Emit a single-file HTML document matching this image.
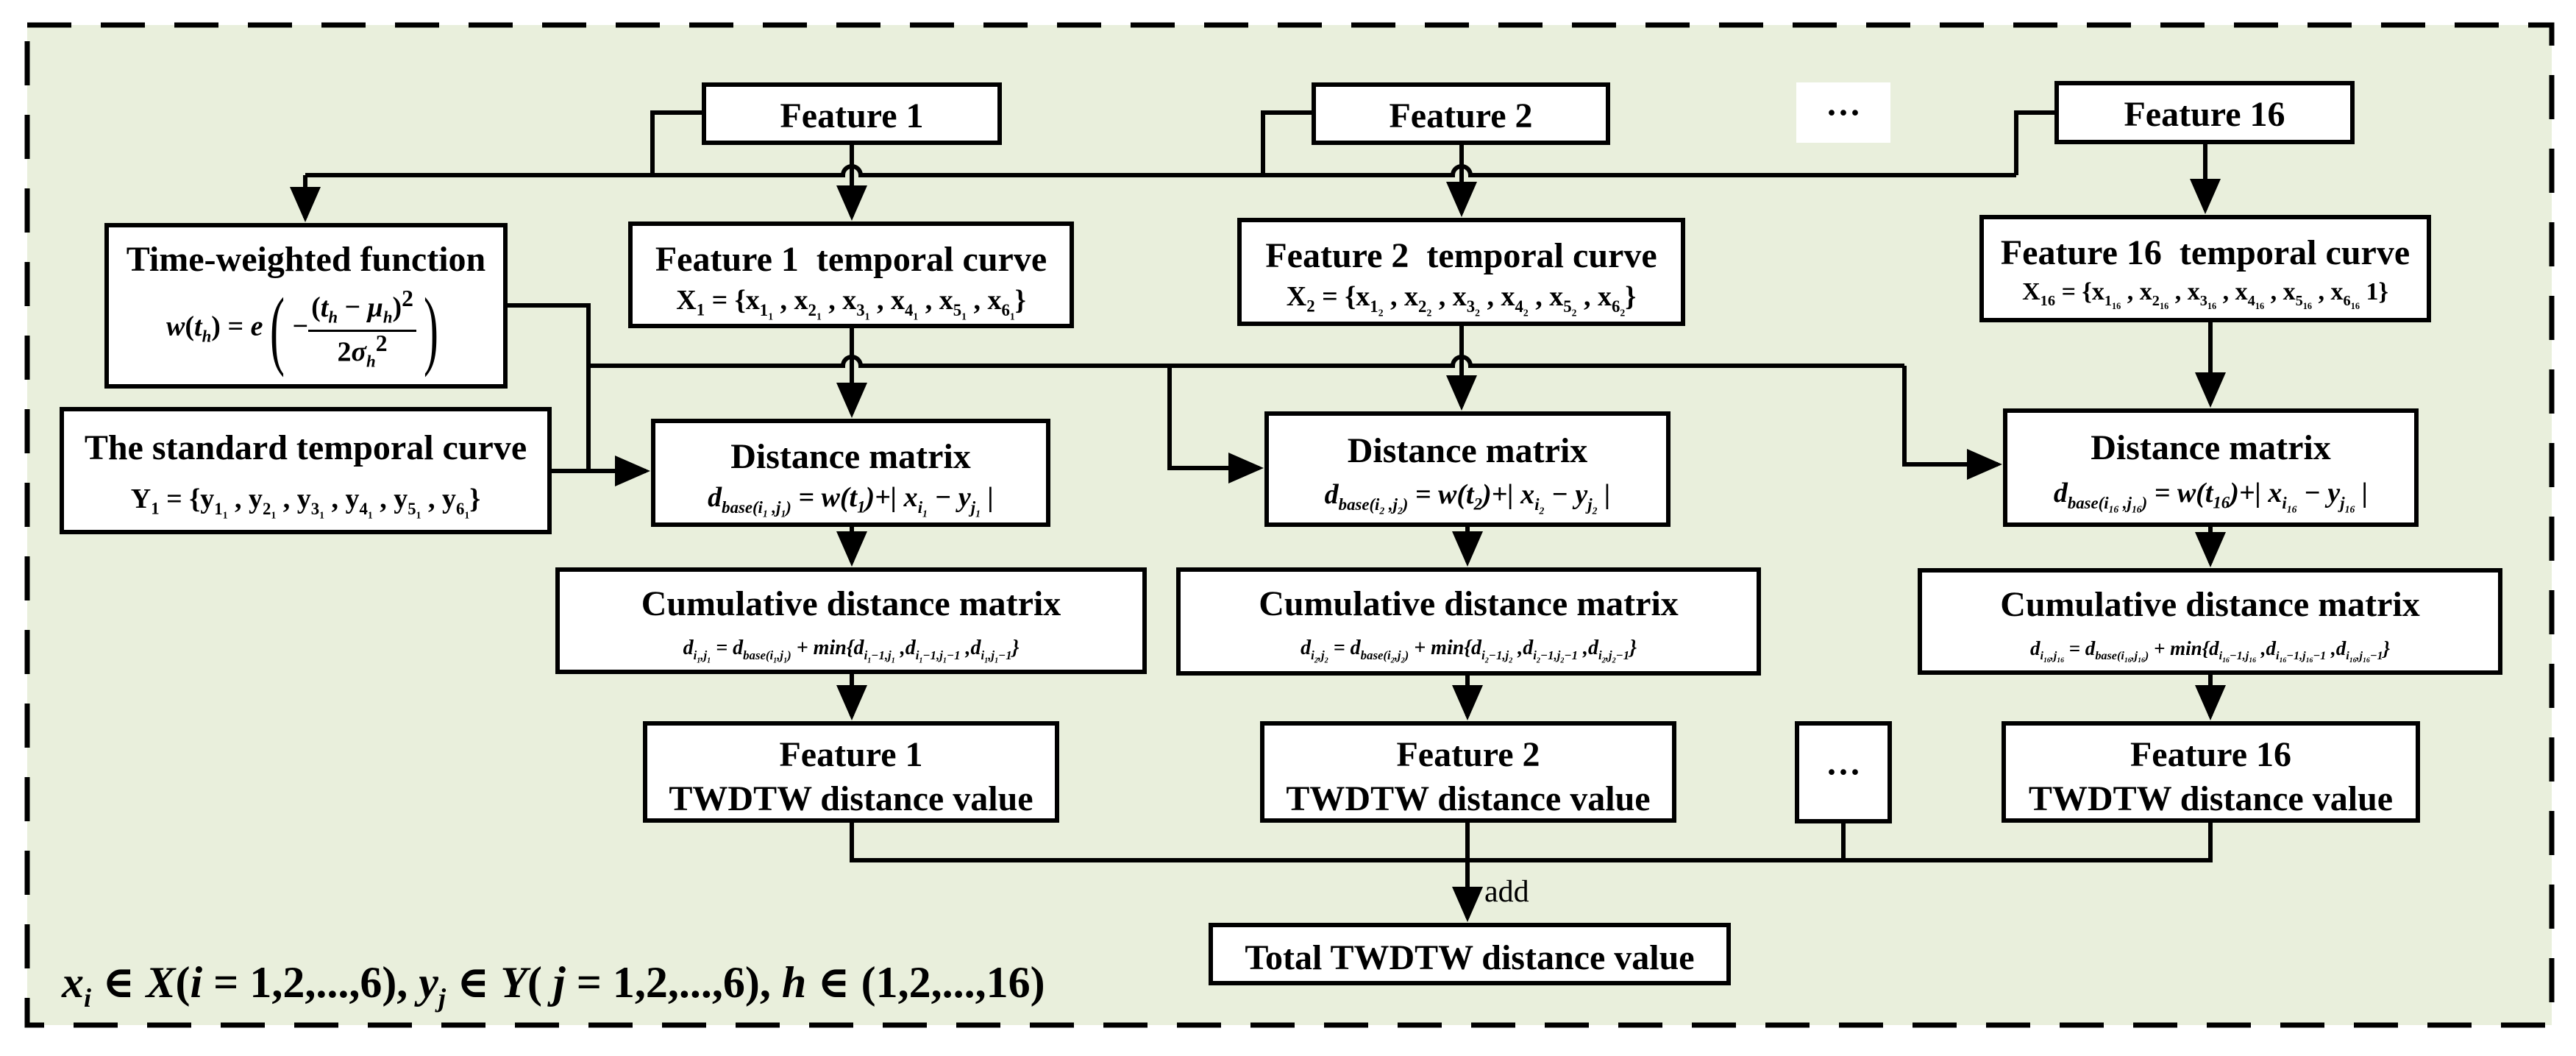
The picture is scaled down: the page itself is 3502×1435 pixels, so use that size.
<!DOCTYPE html>
<html><head><meta charset="utf-8"><style>
body{margin:0;width:3502px;height:1435px;background:#fff;position:relative;overflow:hidden;font-family:"Liberation Serif","Times New Roman","DejaVu Serif",serif;}
.bg{position:absolute;left:37px;top:34px;width:3432px;height:1359px;background:#e9efdc;}
svg{position:absolute;left:0;top:0;}
.b{position:absolute;background:#fff;border:6px solid #000;box-sizing:border-box;}
.t{position:absolute;left:0;right:0;text-align:center;font-weight:bold;font-size:48px;line-height:1;white-space:nowrap;}
.m{position:absolute;left:0;right:0;text-align:center;font-size:38px;line-height:1;white-space:nowrap;}
.i{font-style:italic;}
sub{font-size:60%;}
.s{font-size:28px;}
.fr{display:inline-flex;flex-direction:column;vertical-align:middle;text-align:center;}
.fr > span{display:block;}
.fr > .n{border-bottom:3px solid #000;padding:0 4px 4px;}
.big{font-size:120px;font-weight:normal;vertical-align:middle;transform:scaleX(0.5);display:inline-block;line-height:1;}
</style></head><body>
<div class="bg"></div>
<svg width="3502" height="1435" viewBox="0 0 3502 1435">
<defs><marker id="a" markerWidth="8" markerHeight="8" refX="7" refY="4" orient="auto" markerUnits="strokeWidth"><path d="M0,0.5 L8,4 L0,7.5 Z" fill="#000"/></marker></defs>
<rect x="37" y="34" width="3432" height="1359" fill="none" stroke="#000" stroke-width="7" stroke-dasharray="60,40"/>
<g fill="none" stroke="#000" stroke-width="6">
<path d="M954,153 H887 V238"/>
<path d="M1783,153 H1717 V238"/>
<path d="M2793,153 H2741 V238"/>
<path d="M415,238 H1146 A12,12 0 0 1 1170,238 H1975 A12,12 0 0 1 1999,238 H2741"/>
<path d="M415,238 V296" marker-end="url(#a)"/>
<path d="M1158,197 V294" marker-end="url(#a)"/>
<path d="M1987,197 V289" marker-end="url(#a)"/>
<path d="M2998,196 V285" marker-end="url(#a)"/>
<path d="M690,415 H800 V640"/>
<path d="M750,640 H878" marker-end="url(#a)"/>
<path d="M800,497 H1146 A12,12 0 0 1 1170,497 H1975 A12,12 0 0 1 1999,497 H2589"/>
<path d="M1590,497 V636 H1712" marker-end="url(#a)"/>
<path d="M2589,497 V631 H2716" marker-end="url(#a)"/>
<path d="M1158,446 V562" marker-end="url(#a)"/>
<path d="M1987,443 V552" marker-end="url(#a)"/>
<path d="M3005,438 V548" marker-end="url(#a)"/>
<path d="M1158,716 V764" marker-end="url(#a)"/>
<path d="M1995,716 V764" marker-end="url(#a)"/>
<path d="M3005,716 V765" marker-end="url(#a)"/>
<path d="M1158,916 V973" marker-end="url(#a)"/>
<path d="M1995,918 V973" marker-end="url(#a)"/>
<path d="M3005,917 V973" marker-end="url(#a)"/>
<path d="M1158,1118 V1169 H3005 V1118"/>
<path d="M2506,1119 V1169"/>
<path d="M1995,1118 V1247" marker-end="url(#a)"/>
</g>
</svg>

<div class="b" style="left:954px;top:112px;width:408px;height:85px"><div class="t" style="top:16px">Feature 1</div></div>
<div class="b" style="left:1783px;top:112px;width:406px;height:85px"><div class="t" style="top:16px">Feature 2</div></div>
<div class="b" style="left:2442px;top:112px;width:128px;height:82px;border:none"><div class="t" style="top:18px">···</div></div>
<div class="b" style="left:2793px;top:110px;width:408px;height:86px"><div class="t" style="top:16px">Feature 16</div></div>

<div class="b" style="left:142px;top:303px;width:548px;height:225px">
<div class="t" style="top:20px">Time-weighted function</div>
<div class="m" style="top:78px;font-weight:bold"><span class="i">w</span>(<span class="i">t<sub>h</sub></span>) = <span class="i">e</span><span class="big">(</span>−<span class="fr"><span class="n">(<span class="i">t<sub>h</sub></span> − <span class="i">μ<sub>h</sub></span>)<sup>2</sup></span><span>2<span class="i">σ<sub>h</sub></span><sup>2</sup></span></span><span class="big">)</span></div>
</div>
<div class="b" style="left:854px;top:301px;width:606px;height:145px">
<div class="t" style="top:22px">Feature 1&nbsp; temporal curve</div>
<div class="m" style="top:82px;font-weight:bold">X<sub>1</sub> = {x<sub>1<sub>1</sub></sub> , x<sub>2<sub>1</sub></sub> , x<sub>3<sub>1</sub></sub> , x<sub>4<sub>1</sub></sub> , x<sub>5<sub>1</sub></sub> , x<sub>6<sub>1</sub></sub>}</div>
</div>
<div class="b" style="left:1682px;top:296px;width:609px;height:147px">
<div class="t" style="top:22px">Feature 2&nbsp; temporal curve</div>
<div class="m" style="top:82px;font-weight:bold">X<sub>2</sub> = {x<sub>1<sub>2</sub></sub> , x<sub>2<sub>2</sub></sub> , x<sub>3<sub>2</sub></sub> , x<sub>4<sub>2</sub></sub> , x<sub>5<sub>2</sub></sub> , x<sub>6<sub>2</sub></sub>}</div>
</div>
<div class="b" style="left:2691px;top:292px;width:614px;height:146px">
<div class="t" style="top:22px">Feature 16&nbsp; temporal curve</div>
<div class="m" style="top:82px;font-weight:bold;font-size:34px">X<sub>16</sub> = {x<sub>1<sub>16</sub></sub> , x<sub>2<sub>16</sub></sub> , x<sub>3<sub>16</sub></sub> , x<sub>4<sub>16</sub></sub> , x<sub>5<sub>16</sub></sub> , x<sub>6<sub>16</sub></sub> 1}</div>
</div>

<div class="b" style="left:81px;top:553px;width:669px;height:173px">
<div class="t" style="top:26px">The standard temporal curve</div>
<div class="m" style="top:100px;font-weight:bold">Y<sub>1</sub> = {y<sub>1<sub>1</sub></sub> , y<sub>2<sub>1</sub></sub> , y<sub>3<sub>1</sub></sub> , y<sub>4<sub>1</sub></sub> , y<sub>5<sub>1</sub></sub> , y<sub>6<sub>1</sub></sub>}</div>
</div>

<div class="b" style="left:885px;top:569px;width:543px;height:147px">
<div class="t" style="top:22px">Distance matrix</div>
<div class="m i" style="top:82px;font-weight:bold">d<sub>base(i<sub>1</sub> ,j<sub>1</sub>)</sub> = w(t<sub>1</sub>)+| x<sub>i<sub>1</sub></sub> − y<sub>j<sub>1</sub></sub> |</div>
</div>
<div class="b" style="left:1719px;top:559px;width:552px;height:157px">
<div class="t" style="top:24px">Distance matrix</div>
<div class="m i" style="top:88px;font-weight:bold">d<sub>base(i<sub>2</sub> ,j<sub>2</sub>)</sub> = w(t<sub>2</sub>)+| x<sub>i<sub>2</sub></sub> − y<sub>j<sub>2</sub></sub> |</div>
</div>
<div class="b" style="left:2723px;top:555px;width:565px;height:161px">
<div class="t" style="top:24px">Distance matrix</div>
<div class="m i" style="top:90px;font-weight:bold">d<sub>base(i<sub>16</sub> ,j<sub>16</sub>)</sub> = w(t<sub>16</sub>)+| x<sub>i<sub>16</sub></sub> − y<sub>j<sub>16</sub></sub> |</div>
</div>

<div class="b" style="left:755px;top:771px;width:804px;height:145px">
<div class="t" style="top:20px">Cumulative distance matrix</div>
<div class="m i s" style="top:90px;font-weight:bold">d<sub>i<sub>1</sub>,j<sub>1</sub></sub> = d<sub>base(i<sub>1</sub>,j<sub>1</sub>)</sub> + min{d<sub>i<sub>1</sub>−1,j<sub>1</sub></sub> ,d<sub>i<sub>1</sub>−1,j<sub>1</sub>−1</sub> ,d<sub>i<sub>1</sub>,j<sub>1</sub>−1</sub>}</div>
</div>
<div class="b" style="left:1599px;top:771px;width:795px;height:147px">
<div class="t" style="top:20px">Cumulative distance matrix</div>
<div class="m i s" style="top:90px;font-weight:bold">d<sub>i<sub>2</sub>,j<sub>2</sub></sub> = d<sub>base(i<sub>2</sub>,j<sub>2</sub>)</sub> + min{d<sub>i<sub>2</sub>−1,j<sub>2</sub></sub> ,d<sub>i<sub>2</sub>−1,j<sub>2</sub>−1</sub> ,d<sub>i<sub>2</sub>,j<sub>2</sub>−1</sub>}</div>
</div>
<div class="b" style="left:2607px;top:772px;width:795px;height:145px">
<div class="t" style="top:20px">Cumulative distance matrix</div>
<div class="m i s" style="top:90px;font-weight:bold;font-size:27px">d<sub>i<sub>16</sub>,j<sub>16</sub></sub> = d<sub>base(i<sub>16</sub>,j<sub>16</sub>)</sub> + min{d<sub>i<sub>16</sub>−1,j<sub>16</sub></sub> ,d<sub>i<sub>16</sub>−1,j<sub>16</sub>−1</sub> ,d<sub>i<sub>16</sub>,j<sub>16</sub>−1</sub>}</div>
</div>

<div class="b" style="left:874px;top:980px;width:566px;height:138px">
<div class="t" style="top:16px">Feature 1</div><div class="t" style="top:76px">TWDTW distance value</div></div>
<div class="b" style="left:1713px;top:980px;width:566px;height:138px">
<div class="t" style="top:16px">Feature 2</div><div class="t" style="top:76px">TWDTW distance value</div></div>
<div class="b" style="left:2440px;top:980px;width:132px;height:139px"><div class="t" style="top:40px">···</div></div>
<div class="b" style="left:2721px;top:980px;width:569px;height:138px">
<div class="t" style="top:16px">Feature 16</div><div class="t" style="top:76px">TWDTW distance value</div></div>

<div style="position:absolute;left:2018px;top:1188px;font-size:42px;">add</div>
<div class="b" style="left:1643px;top:1254px;width:710px;height:85px"><div class="t" style="top:18px">Total TWDTW distance value</div></div>

<div style="position:absolute;left:84px;top:1300px;font-size:60px;font-weight:bold;white-space:nowrap;"><span class="i">x<sub>i</sub></span> ∈ <span class="i">X</span>(<span class="i">i</span> = 1,2,...,6), <span class="i">y<sub>j</sub></span> ∈ <span class="i">Y</span>( <span class="i">j</span> = 1,2,...,6), <span class="i">h</span> ∈ (1,2,...,16)</div>
</body></html>
